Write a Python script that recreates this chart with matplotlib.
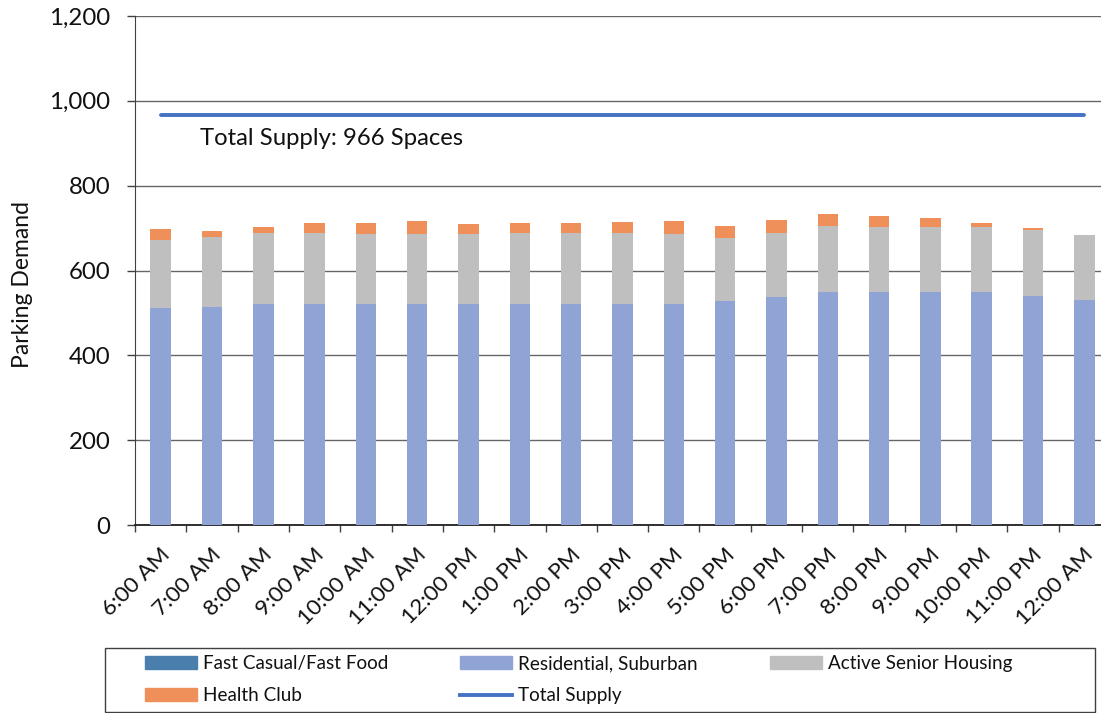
import matplotlib
matplotlib.use("Agg")
import matplotlib.pyplot as plt
from matplotlib.patches import Patch, Rectangle
from matplotlib.lines import Line2D
from matplotlib.ticker import FuncFormatter, MultipleLocator
import matplotlib.transforms as mtransforms
import numpy as np

plt.rcParams['font.family'] = ['Lato', 'DejaVu Sans']

categories = ["6:00 AM", "7:00 AM", "8:00 AM", "9:00 AM", "10:00 AM", "11:00 AM",
              "12:00 PM", "1:00 PM", "2:00 PM", "3:00 PM", "4:00 PM", "5:00 PM",
              "6:00 PM", "7:00 PM", "8:00 PM", "9:00 PM", "10:00 PM", "11:00 PM",
              "12:00 AM"]
fast_casual = [0] * 19
residential = [512, 515, 520, 520, 520, 522, 522, 522, 522, 521, 520, 527, 537, 550, 550, 550, 550, 541, 530]
senior = [160, 165, 168, 168, 167, 165, 165, 166, 166, 167, 167, 149, 151, 155, 153, 153, 153, 155, 154]
health = [26, 14, 15, 25, 25, 29, 22, 25, 25, 26, 29, 29, 31, 28, 25, 20, 10, 4, 0]
total_supply = 966

c_fast = "#4A7EAD"
c_res = "#8FA3D4"
c_sen = "#BFBFBF"
c_hea = "#EF8F5A"
c_sup = "#4472C4"

fig = plt.figure(figsize=(11.01, 7.13), dpi=100)
W, H = 1101, 713
ax = fig.add_axes([135 / W, 1 - 525 / H, 975 / W, (525 - 16) / H])

x = np.arange(len(categories))
res = np.array(residential)
sen = np.array(senior)
hea = np.array(health)
fc = np.array(fast_casual)
bw = 0.4
ax.bar(x, fc, bw, color=c_fast, zorder=3)
ax.bar(x, res, bw, bottom=fc, color=c_res, zorder=3)
ax.bar(x, sen, bw, bottom=fc + res, color=c_sen, zorder=3)
ax.bar(x, hea, bw, bottom=fc + res + sen, color=c_hea, zorder=3)
ax.plot([x[0], x[-1]], [total_supply, total_supply], color=c_sup, lw=2.8, zorder=4,
        solid_capstyle='round')
ax.text(0.77, total_supply - 54, f"Total Supply: {total_supply} Spaces", fontsize=17.2,
        ha='left', va='center', color='#111111')

ax.set_xlim(-0.5, len(categories) - 0.5)
ax.set_ylim(0, 1200)
ax.yaxis.set_major_locator(MultipleLocator(200))
ax.yaxis.set_major_formatter(FuncFormatter(lambda v, p: f"{int(v):,}"))
ax.grid(axis='y', color='#666666', lw=1.0, zorder=0)
ax.set_axisbelow(True)
ax.tick_params(axis='y', labelsize=17.3, length=5.8, width=1, color='#404040', pad=12,
               labelcolor='#111111')

ax.set_xticks(x)
ax.set_xticklabels(categories, rotation=45, ha='right', va='top', rotation_mode='anchor',
                   fontsize=16.2, color='#111111')
ax.set_xticks(np.arange(-0.5, len(categories), 1), minor=True)
ax.tick_params(axis='x', which='major', length=0, pad=14)
ax.tick_params(axis='x', which='minor', length=5, width=1, color='#404040')
offset = mtransforms.ScaledTranslation(-1 / 100, 0, fig.dpi_scale_trans)
for lab in ax.get_xticklabels():
    lab.set_transform(lab.get_transform() + offset)

for s in ['top', 'right']:
    ax.spines[s].set_visible(False)
ax.spines['left'].set_color('#404040')
ax.spines['bottom'].set_color('#202020')
ax.spines['bottom'].set_linewidth(1.3)

ax.set_ylabel("Parking Demand", fontsize=16.5, color='#111111')
ax.yaxis.set_label_coords(33 / W, 1 - 285 / H, transform=fig.transFigure)

# legend frame
fig.patches.append(Rectangle((105 / W, 1 - 712 / H), (1095 - 105) / W, (712 - 648) / H,
                             transform=fig.transFigure, fill=False, edgecolor='#404040',
                             lw=1.0))
handles = [
    Patch(color=c_fast, label="Fast Casual/Fast Food"),
    Patch(color=c_hea, label="Health Club"),
    Patch(color=c_res, label="Residential, Suburban"),
    Line2D([0], [0], color=c_sup, lw=2.8, label="Total Supply"),
    Patch(color=c_sen, label="Active Senior Housing"),
]
fs = 13.6
em = fs * 100 / 72
leg = fig.legend(handles=handles, ncol=3, loc='upper left',
                 bbox_to_anchor=(145 / W, 1 - 655 / H),
                 fontsize=fs, frameon=False, borderpad=0, borderaxespad=0,
                 handlelength=52 / em, handleheight=12 / em,
                 handletextpad=6 / em, labelspacing=(34 - em) / em, columnspacing=72 / em)
for t in leg.get_texts():
    t.set_color('#111111')

fig.savefig("out.png", dpi=100)
